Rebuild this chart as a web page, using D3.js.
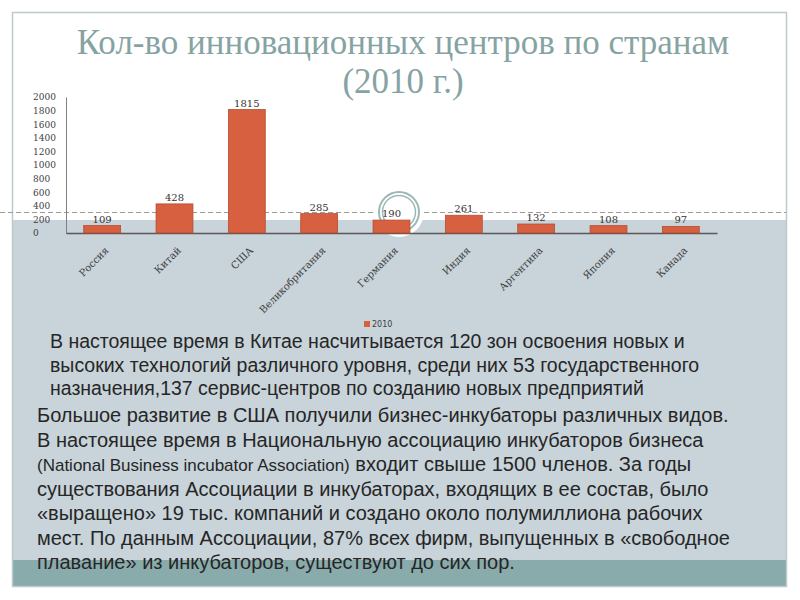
<!DOCTYPE html>
<html>
<head>
<meta charset="utf-8">
<script src="https://cdn.jsdelivr.net/npm/d3@7"></script>
<style>
  body { margin: 0; background: #fff; }
  .title { font-family: "Liberation Serif", serif; fill: #86a3a3; }
  .axis text { font-family: "DejaVu Serif", serif; fill: #404040; }
  .body-text { font-family: "Liberation Sans", sans-serif; fill: #262626; }
</style>
</head>
<body>
<svg id="slide"></svg>
<script>
// chart data
const countries = ["Россия", "Китай", "США", "Великобритания", "Германия", "Индия", "Аргентина", "Япония", "Канада"]
const centers2010 = [109, 428, 1815, 285, 190, 261, 132, 108, 97]
const yTicks = [0, 200, 400, 600, 800, 1000, 1200, 1400, 1600, 1800, 2000]
const seriesName = "2010"

const titleLines = ["Кол-во инновационных центров по странам", "(2010 г.)"]
const para1 = [
  "В настоящее время в Китае насчитывается 120 зон освоения новых и",
  "высоких технологий различного уровня, среди них 53 государственного",
  "назначения,137 сервис-центров по созданию новых предприятий"
]
// second paragraph; the English name is set smaller, as on the slide
const para2 = [
  ["Большое развитие в США получили бизнес-инкубаторы различных видов."],
  ["В настоящее время в Национальную ассоциацию инкубаторов бизнеса"],
  ["(National Business incubator Association)", " входит свыше 1500 членов. За годы"],
  ["существования Ассоциации в инкубаторах, входящих в ее состав, было"],
  ["«выращено» 19 тыс. компаний и создано около полумиллиона рабочих"],
  ["мест. По данным Ассоциации, 87% всех фирм, выпущенных в «свободное"],
  ["плавание» из инкубаторов, существуют до сих пор."]
]

const W = 800, H = 600
const svg = d3.select("#slide").attr("width", W).attr("height", H)

// slide background pieces
svg.append("rect").attr("width", W).attr("height", H).attr("fill", "#fff")
svg.append("rect")
  .attr("x", 13).attr("y", 220).attr("width", 773).attr("height", 340)
  .attr("fill", "#c8d3da")
svg.append("rect")
  .attr("x", 13).attr("y", 560).attr("width", 773).attr("height", 26)
  .attr("fill", "#8aabab")
svg.append("rect")
  .attr("x", 12.5).attr("y", 12.5).attr("width", 774).attr("height", 574)
  .attr("fill", "none").attr("stroke", "#bccaca").attr("stroke-width", 1.5)
svg.append("line")
  .attr("x1", 0).attr("x2", 786).attr("y1", 212.5).attr("y2", 212.5)
  .attr("stroke", "#9a9a9a").attr("stroke-dasharray", "5,3")

// ring ornament
const ring = svg.append("g").attr("transform", "translate(399,212)")
ring.append("circle").attr("r", 25).attr("fill", "#fff")
ring.append("circle").attr("r", 20).attr("fill", "none").attr("stroke", "#9db7b7").attr("stroke-width", 2)
ring.append("circle").attr("r", 16.5).attr("fill", "none").attr("stroke", "#9db7b7").attr("stroke-width", 1.5)

// title
svg.selectAll(".title")
  .data(titleLines)
  .join("text")
  .attr("class", "title")
  .attr("x", 403)
  .attr("y", (d, i) => 54 + i * 39)
  .attr("text-anchor", "middle")
  .attr("font-size", 35)
  .text(d => d)

// chart
const plot = {left: 66, right: 717, top: 97, bottom: 233}

const xScale = d3.scaleBand()
  .domain(countries)
  .range([plot.left, plot.right])
  .paddingInner(0.49)
  .paddingOuter(0.245)

const yScale = d3.scaleLinear()
  .domain([0, 2000])
  .range([plot.bottom, plot.top])

const yAxis = svg.append("g")
  .attr("class", "y axis")
  .attr("transform", `translate(${plot.left},0)`)
  .call(d3.axisLeft(yScale).tickValues(yTicks).tickSize(0).tickFormat(d3.format("d")))
yAxis.select(".domain").attr("stroke", "#7f7f7f")
yAxis.selectAll("text")
  .attr("x", -33)
  .attr("text-anchor", "start")
  .attr("font-size", 9)

const xAxis = svg.append("g")
  .attr("class", "x axis")
  .attr("transform", `translate(0,${plot.bottom})`)
  .call(d3.axisBottom(xScale).tickSize(0))
xAxis.select(".domain").attr("stroke", "#595959").attr("stroke-width", 1.5)
xAxis.selectAll("text")
  .attr("font-size", 10)
  .attr("text-anchor", "end")
  .attr("dy", 0)
  .attr("transform", "translate(5,16) rotate(-45)")

svg.append("g")
  .selectAll("rect")
  .data(centers2010)
  .join("rect")
  .attr("x", (d, i) => xScale(countries[i]))
  .attr("y", d => yScale(d))
  .attr("width", xScale.bandwidth())
  .attr("height", d => plot.bottom - yScale(d))
  .attr("fill", "#d6603f")
  .attr("stroke", "#b54d31")
  .attr("stroke-width", 0.8)

svg.append("g")
  .selectAll("text")
  .data(centers2010)
  .join("text")
  .attr("x", (d, i) => xScale(countries[i]) + xScale.bandwidth() / 2)
  .attr("y", d => yScale(d) - 3)
  .attr("text-anchor", "middle")
  .attr("font-family", "DejaVu Serif, serif")
  .attr("font-size", 10)
  .attr("fill", "#333")
  .text(d => d)

// legend
const legend = svg.append("g").attr("transform", "translate(364,321)")
legend.append("rect").attr("width", 6).attr("height", 6).attr("fill", "#d6603f")
legend.append("text")
  .attr("x", 8).attr("y", 6)
  .attr("font-family", "DejaVu Sans, sans-serif")
  .attr("font-size", 8)
  .attr("fill", "#404040")
  .text(seriesName)

// body text
svg.append("g")
  .selectAll("text")
  .data(para1)
  .join("text")
  .attr("class", "body-text")
  .attr("x", 50)
  .attr("y", (d, i) => 348 + i * 23.5)
  .attr("font-size", 19.5)
  .text(d => d)

const p2 = svg.append("g")
  .selectAll("text")
  .data(para2)
  .join("text")
  .attr("class", "body-text")
  .attr("x", 37)
  .attr("y", (d, i) => 422 + i * 24.5)
  .attr("font-size", 20)
p2.selectAll("tspan")
  .data(d => d)
  .join("tspan")
  .attr("font-size", (d, i, nodes) => nodes.length > 1 && i === 0 ? 17 : null)
  .text(d => d)
</script>
</body>
</html>
